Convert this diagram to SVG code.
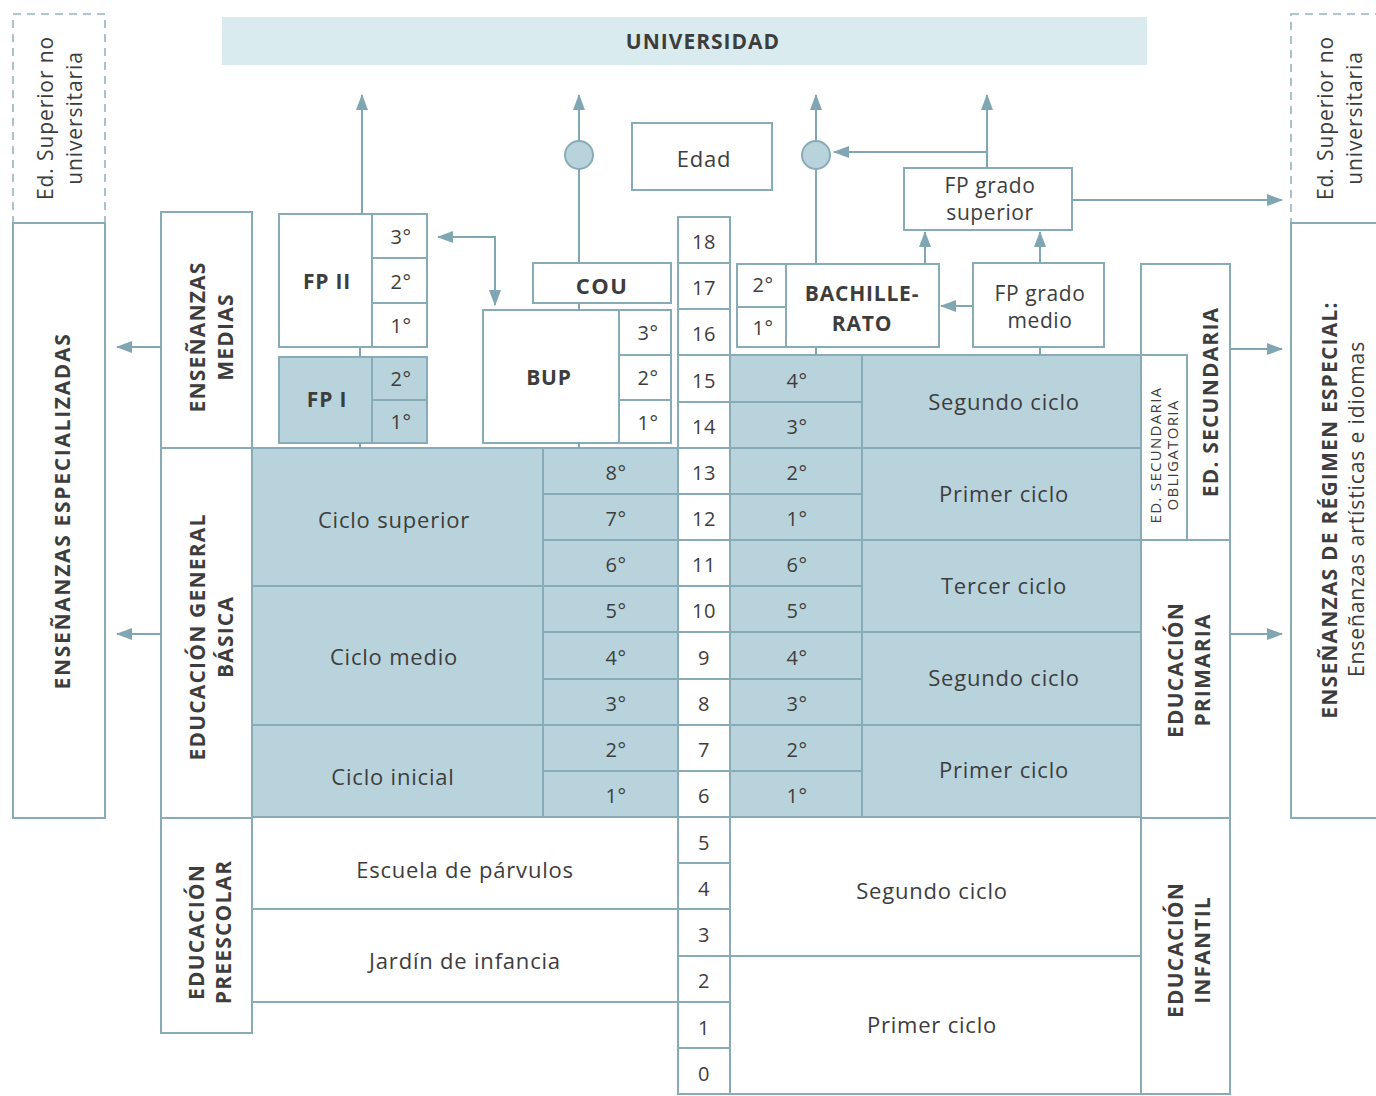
<svg xmlns="http://www.w3.org/2000/svg" width="1376" height="1096" viewBox="0 0 1376 1096">
<defs>
<marker id="ah" viewBox="0 0 16 12" markerWidth="16" markerHeight="12" refX="15" refY="6" orient="auto-start-reverse" markerUnits="userSpaceOnUse">
<path d="M0,0 L16,6 L0,12 z" fill="#7fa6b2"/>
</marker>
<style>
.bx{fill:#fff;stroke:#88acb7;stroke-width:2}
.sh{fill:#b9d3dc;stroke:#88acb7;stroke-width:2}
.ds{fill:#fff;stroke:#97b4be;stroke-width:1.6;stroke-dasharray:8 6}
.ln{fill:none;stroke:#7fa6b2;stroke-width:2}
.ar{fill:none;stroke:#7fa6b2;stroke-width:2;marker-end:url(#ah)}
.dot{fill:#b9d3dc;stroke:#88acb7;stroke-width:2}
text{font-family:"Open Sans","Liberation Sans",sans-serif;fill:#3d3d3d;text-anchor:middle;dominant-baseline:central}
.t{font-size:22px;letter-spacing:0.8px}
.t2{font-size:21px;letter-spacing:0.6px}
.g{font-size:20px;letter-spacing:0.5px}
.b{font-size:21px;font-weight:bold;letter-spacing:0.8px}
.vb{font-size:21px;font-weight:bold;letter-spacing:1.2px}
.vs{font-size:15px;letter-spacing:1.3px}
.vr{font-size:21px;letter-spacing:0.9px}
</style>
</defs>
<rect width="1376" height="1096" fill="#fff"/>

<g id="universidad">
<rect x="222" y="17" width="925" height="48" fill="#d9ebee"/>
<text class="b" x="703" y="41" style="letter-spacing:1px">UNIVERSIDAD</text>
</g>

<g id="ed-superior-izq">
<rect class="ds" x="13" y="14" width="92" height="209"/>
<text class="vr" transform="translate(45,118) rotate(-90)">Ed. Superior no</text>
<text class="vr" transform="translate(74,118) rotate(-90)">universitaria</text>
</g>
<g id="ens-especializadas">
<rect class="bx" x="13" y="223" width="92" height="595"/>
<text class="vb" transform="translate(62,511) rotate(-90)" style="letter-spacing:1.7px">ENSEÑANZAS ESPECIALIZADAS</text>
</g>

<g id="ed-superior-der">
<rect class="ds" x="1291" y="14" width="100" height="209"/>
<text class="vr" transform="translate(1325,118) rotate(-90)">Ed. Superior no</text>
<text class="vr" transform="translate(1354,118) rotate(-90)">universitaria</text>
</g>
<g id="regimen-especial">
<rect class="bx" x="1291" y="223" width="100" height="595"/>
<text class="vb" transform="translate(1329,510) rotate(-90)">ENSEÑANZAS DE RÉGIMEN ESPECIAL:</text>
<text class="vr" transform="translate(1356,509) rotate(-90)">Enseñanzas artísticas e idiomas</text>
</g>

<g id="ens-medias">
<rect class="bx" x="161" y="212" width="91" height="236"/>
<text class="vb" transform="translate(197,337) rotate(-90)">ENSEÑANZAS</text>
<text class="vb" transform="translate(225,337) rotate(-90)">MEDIAS</text>
</g>
<g id="egb-label">
<rect class="bx" x="161" y="448" width="91" height="370"/>
<text class="vb" transform="translate(197,637) rotate(-90)">EDUCACIÓN GENERAL</text>
<text class="vb" transform="translate(225,637) rotate(-90)">BÁSICA</text>
</g>
<g id="preescolar-label">
<rect class="bx" x="161" y="818" width="91" height="215"/>
<text class="vb" transform="translate(196,932) rotate(-90)">EDUCACIÓN</text>
<text class="vb" transform="translate(223,932) rotate(-90)">PREESCOLAR</text>
</g>

<g id="fp2">
<rect class="bx" x="279" y="214" width="93" height="133"/>
<rect class="bx" x="372" y="214" width="55" height="44"/>
<rect class="bx" x="372" y="258" width="55" height="45"/>
<rect class="bx" x="372" y="303" width="55" height="44"/>
<text class="b" x="327" y="281">FP II</text>
<text class="g" x="401" y="236">3°</text>
<text class="g" x="401" y="281">2°</text>
<text class="g" x="401" y="325">1°</text>
</g>
<g id="fp1">
<rect class="sh" x="279" y="357" width="93" height="86"/>
<rect class="sh" x="372" y="357" width="55" height="43"/>
<rect class="sh" x="372" y="400" width="55" height="43"/>
<text class="b" x="327" y="399">FP I</text>
<text class="g" x="401" y="378">2°</text>
<text class="g" x="401" y="421">1°</text>
</g>

<g id="cou">
<rect class="bx" x="533" y="263" width="138" height="40"/>
<text class="b" x="602" y="285" style="font-size:22px;letter-spacing:1.5px">COU</text>
</g>
<g id="bup">
<rect class="bx" x="483" y="310" width="136" height="133"/>
<rect class="bx" x="619" y="310" width="52" height="45"/>
<rect class="bx" x="619" y="355" width="52" height="45"/>
<rect class="bx" x="619" y="400" width="52" height="43"/>
<text class="b" x="549" y="377">BUP</text>
<text class="g" x="648" y="332">3°</text>
<text class="g" x="648" y="377">2°</text>
<text class="g" x="648" y="422">1°</text>
</g>

<g id="edad">
<rect class="bx" x="632" y="123" width="140" height="67"/>
<text class="t" x="704" y="158">Edad</text>
</g>

<g id="edades">
<rect class="bx" x="678" y="217" width="52" height="46"/><text class="g" x="704" y="241">18</text>
<rect class="bx" x="678" y="263" width="52" height="46"/><text class="g" x="704" y="287">17</text>
<rect class="bx" x="678" y="309" width="52" height="46"/><text class="g" x="704" y="333">16</text>
<rect class="bx" x="678" y="355" width="52" height="47"/><text class="g" x="704" y="380">15</text>
<rect class="bx" x="678" y="402" width="52" height="46"/><text class="g" x="704" y="426">14</text>
<rect class="bx" x="678" y="448" width="52" height="46"/><text class="g" x="704" y="472">13</text>
<rect class="bx" x="678" y="494" width="52" height="46"/><text class="g" x="704" y="518">12</text>
<rect class="bx" x="678" y="540" width="52" height="46"/><text class="g" x="704" y="564">11</text>
<rect class="bx" x="678" y="586" width="52" height="46"/><text class="g" x="704" y="610">10</text>
<rect class="bx" x="678" y="632" width="52" height="47"/><text class="g" x="704" y="657">9</text>
<rect class="bx" x="678" y="679" width="52" height="46"/><text class="g" x="704" y="703">8</text>
<rect class="bx" x="678" y="725" width="52" height="46"/><text class="g" x="704" y="749">7</text>
<rect class="bx" x="678" y="771" width="52" height="46"/><text class="g" x="704" y="795">6</text>
<rect class="bx" x="678" y="817" width="52" height="46"/><text class="g" x="704" y="842">5</text>
<rect class="bx" x="678" y="863" width="52" height="46"/><text class="g" x="704" y="888">4</text>
<rect class="bx" x="678" y="909" width="52" height="47"/><text class="g" x="704" y="934">3</text>
<rect class="bx" x="678" y="956" width="52" height="46"/><text class="g" x="704" y="980">2</text>
<rect class="bx" x="678" y="1002" width="52" height="46"/><text class="g" x="704" y="1027">1</text>
<rect class="bx" x="678" y="1048" width="52" height="46"/><text class="g" x="704" y="1073">0</text>
</g>

<g id="egb">
<rect class="sh" x="252" y="448" width="291" height="138"/>
<rect class="sh" x="252" y="586" width="291" height="139"/>
<rect class="sh" x="252" y="725" width="291" height="92"/>
<text class="t" x="394" y="519">Ciclo superior</text>
<text class="t" x="394" y="656">Ciclo medio</text>
<text class="t" x="393" y="776">Ciclo inicial</text>
<rect class="sh" x="543" y="448" width="135" height="46"/><text class="g" x="616" y="472">8°</text>
<rect class="sh" x="543" y="494" width="135" height="46"/><text class="g" x="616" y="518">7°</text>
<rect class="sh" x="543" y="540" width="135" height="46"/><text class="g" x="616" y="564">6°</text>
<rect class="sh" x="543" y="586" width="135" height="46"/><text class="g" x="616" y="610">5°</text>
<rect class="sh" x="543" y="632" width="135" height="47"/><text class="g" x="616" y="657">4°</text>
<rect class="sh" x="543" y="679" width="135" height="46"/><text class="g" x="616" y="703">3°</text>
<rect class="sh" x="543" y="725" width="135" height="46"/><text class="g" x="616" y="749">2°</text>
<rect class="sh" x="543" y="771" width="135" height="46"/><text class="g" x="616" y="795">1°</text>
</g>

<g id="preescolar">
<rect class="bx" x="252" y="817" width="426" height="92"/>
<rect class="bx" x="252" y="909" width="426" height="93"/>
<text class="t" x="465" y="869">Escuela de párvulos</text>
<text class="t" x="465" y="960">Jardín de infancia</text>
</g>

<g id="bachillerato">
<rect class="bx" x="737" y="264" width="49" height="43"/>
<rect class="bx" x="737" y="307" width="49" height="40"/>
<rect class="bx" x="786" y="264" width="153" height="83"/>
<text class="g" x="763" y="284">2°</text>
<text class="g" x="763" y="327">1°</text>
<text class="b" x="862" y="293">BACHILLE-</text>
<text class="b" x="862" y="323">RATO</text>
</g>
<g id="fp-grado-medio">
<rect class="bx" x="973" y="263" width="131" height="84"/>
<text class="t2" x="1040" y="293">FP grado</text>
<text class="t2" x="1040" y="320">medio</text>
</g>
<g id="fp-grado-superior">
<rect class="bx" x="904" y="168" width="168" height="62"/>
<text class="t2" x="990" y="185">FP grado</text>
<text class="t2" x="990" y="212">superior</text>
</g>

<g id="eso-primaria">
<rect class="sh" x="730" y="355" width="132" height="47"/><text class="g" x="797" y="380">4°</text>
<rect class="sh" x="730" y="402" width="132" height="46"/><text class="g" x="797" y="426">3°</text>
<rect class="sh" x="730" y="448" width="132" height="46"/><text class="g" x="797" y="472">2°</text>
<rect class="sh" x="730" y="494" width="132" height="46"/><text class="g" x="797" y="518">1°</text>
<rect class="sh" x="730" y="540" width="132" height="46"/><text class="g" x="797" y="564">6°</text>
<rect class="sh" x="730" y="586" width="132" height="46"/><text class="g" x="797" y="610">5°</text>
<rect class="sh" x="730" y="632" width="132" height="47"/><text class="g" x="797" y="657">4°</text>
<rect class="sh" x="730" y="679" width="132" height="46"/><text class="g" x="797" y="703">3°</text>
<rect class="sh" x="730" y="725" width="132" height="46"/><text class="g" x="797" y="749">2°</text>
<rect class="sh" x="730" y="771" width="132" height="46"/><text class="g" x="797" y="795">1°</text>
<rect class="sh" x="862" y="355" width="279" height="93"/><text class="t" x="1004" y="401">Segundo ciclo</text>
<rect class="sh" x="862" y="448" width="279" height="92"/><text class="t" x="1004" y="493">Primer ciclo</text>
<rect class="sh" x="862" y="540" width="279" height="92"/><text class="t" x="1004" y="585">Tercer ciclo</text>
<rect class="sh" x="862" y="632" width="279" height="93"/><text class="t" x="1004" y="677">Segundo ciclo</text>
<rect class="sh" x="862" y="725" width="279" height="92"/><text class="t" x="1004" y="769">Primer ciclo</text>
</g>

<g id="infantil">
<rect class="bx" x="730" y="817" width="411" height="139"/>
<rect class="bx" x="730" y="956" width="411" height="138"/>
<text class="t" x="932" y="890">Segundo ciclo</text>
<text class="t" x="932" y="1024">Primer ciclo</text>
</g>

<g id="ed-secundaria">
<rect class="bx" x="1141" y="264" width="89" height="276"/>
<text class="vb" transform="translate(1210,402) rotate(-90)">ED. SECUNDARIA</text>
</g>
<g id="eso-label">
<rect class="bx" x="1141" y="355" width="46" height="185"/>
<text class="vs" transform="translate(1155,455) rotate(-90)">ED. SECUNDARIA</text>
<text class="vs" transform="translate(1172,455) rotate(-90)">OBLIGATORIA</text>
</g>
<g id="primaria-label">
<rect class="bx" x="1141" y="540" width="89" height="278"/>
<text class="vb" transform="translate(1175,670) rotate(-90)">EDUCACIÓN</text>
<text class="vb" transform="translate(1202,670) rotate(-90)">PRIMARIA</text>
</g>
<g id="infantil-label">
<rect class="bx" x="1141" y="818" width="89" height="276"/>
<text class="vb" transform="translate(1175,950) rotate(-90)">EDUCACIÓN</text>
<text class="vb" transform="translate(1202,950) rotate(-90)">INFANTIL</text>
</g>

<g id="connectors">
<path class="ar" d="M362,214 V95"/>
<path class="ar" d="M438,237 H495 V305" style="marker-start:url(#ah)"/>
<path class="ln" d="M579,263 V169"/>
<circle class="dot" cx="579" cy="155" r="14"/>
<path class="ar" d="M579,141 V95"/>
<path class="ln" d="M816,264 V169"/>
<circle class="dot" cx="816" cy="155" r="14"/>
<path class="ar" d="M816,141 V95"/>
<path class="ar" d="M987,168 V95"/>
<path class="ar" d="M987,152 H834"/>
<path class="ar" d="M1072,200 H1282"/>
<path class="ar" d="M973,306 H941"/>
<path class="ar" d="M1040,263 V232"/>
<path class="ar" d="M925,264 V232"/>
<path class="ar" d="M161,347 H117"/>
<path class="ar" d="M161,634 H117"/>
<path class="ar" d="M1230,349 H1282"/>
<path class="ar" d="M1230,634 H1282"/>
<path class="ln" d="M360,347 V357 M360,443 V448 M579,303 V310 M579,443 V448 M816,347 V355 M1040,347 V355"/>
</g>
</svg>
